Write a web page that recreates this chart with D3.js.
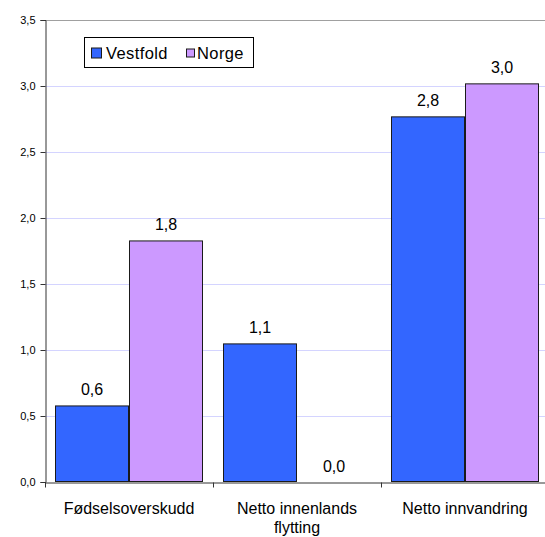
<!DOCTYPE html>
<html>
<head>
<meta charset="utf-8">
<script src="https://cdn.jsdelivr.net/npm/d3@7"></script>
<style>
  html, body { margin: 0; padding: 0; background: #fff; }
  svg { display: block; font-family: "Liberation Sans", Arial, sans-serif; }
</style>
</head>
<body>
<svg id="chart" width="545" height="537"></svg>
<script>
const categories = ["Fødselsoverskudd", "Netto innenlands\nflytting", "Netto innvandring"];
const series = ["Vestfold", "Norge"];
const vestfold = [0.58, 1.05, 2.77];
const norge = [1.83, 0.0, 3.02];
const vestfoldLabels = ["0,6", "1,1", "2,8"];
const norgeLabels = ["1,8", "0,0", "3,0"];
const yTicks = [0, 0.5, 1.0, 1.5, 2.0, 2.5, 3.0, 3.5];
const colors = ["#3366FF", "#CC99FF"];

(function () {
const values = [vestfold, norge];
const labels = [vestfoldLabels, norgeLabels];

const svg = d3.select("#chart");
const mLeft = 45, mTop = 20, mBottom = 482, catW = 168;

const x = d3.scaleBand().domain(categories).range([mLeft, mLeft + catW * categories.length]).padding(0);
const xs = d3.scaleBand().domain(series).range([10, catW - 10]).padding(0);
const y = d3.scaleLinear().domain([0, 3.5]).range([mBottom, mTop]);

const fmt = v => d3.format(".1f")(v).replace(".", ",");

// gridlines
svg.append("g").selectAll("line").data(yTicks.filter(t => t > 0)).join("line")
  .attr("x1", mLeft).attr("x2", 545)
  .attr("y1", d => Math.round(y(d)) + 0.5).attr("y2", d => Math.round(y(d)) + 0.5)
  .attr("stroke", d => d === 3.5 ? "#a0a0a0" : "#d4d4ff").attr("stroke-width", 1);

// bars
series.forEach((s, si) => {
  const g = svg.append("g");
  g.selectAll("rect").data(categories).join("rect")
    .attr("x", (c) => x(c) + xs(s) + 0.5)
    .attr("y", (c, i) => y(values[si][i]) + 0.5)
    .attr("width", xs.bandwidth() - 1)
    .attr("height", (c, i) => Math.max(0, mBottom - y(values[si][i]) - 1))
    .attr("fill", colors[si])
    .attr("stroke", "#1a1a1a").attr("stroke-width", 1)
    .style("display", (c, i) => values[si][i] === 0 ? "none" : null);
  g.selectAll("text").data(categories).join("text")
    .attr("x", c => x(c) + xs(s) + xs.bandwidth() / 2)
    .attr("y", (c, i) => y(values[si][i]) - 10)
    .attr("text-anchor", "middle")
    .attr("font-size", 16).attr("fill", "#000")
    .text((c, i) => labels[si][i]);
});

// y axis
const yAxis = d3.axisLeft(y).tickValues(yTicks).tickSize(5).tickPadding(5).tickFormat(fmt);
const gy = svg.append("g").attr("transform", `translate(${mLeft + 0.5},0)`).call(yAxis);
gy.select(".domain").attr("stroke", "#333");
gy.selectAll(".tick line").attr("stroke", "#333");
gy.selectAll(".tick text").attr("font-size", 11).attr("fill", "#000")
  .attr("font-family", '"Liberation Sans", Arial, sans-serif');

// x axis
const xAxis = d3.axisBottom(x).tickSize(0).tickFormat("");
const gx = svg.append("g").attr("transform", `translate(0,${mBottom + 0.5})`).call(xAxis);
gx.select(".domain").attr("stroke", "#333");
gx.selectAll(".tick").remove();
gx.selectAll("line.sep").data(d3.range(categories.length + 1)).join("line")
  .attr("class", "sep")
  .attr("x1", i => Math.round(mLeft + catW * i) + 0.5).attr("x2", i => Math.round(mLeft + catW * i) + 0.5)
  .attr("y1", 0).attr("y2", 5).attr("stroke", "#333");

// category labels
const cl = svg.append("g").selectAll("text").data(categories).join("text")
  .attr("x", c => x(c) + x.bandwidth() / 2)
  .attr("y", 514)
  .attr("text-anchor", "middle").attr("font-size", 16).attr("fill", "#000");
cl.each(function(c) {
  const lines = c.split("\n");
  const t = d3.select(this);
  lines.forEach((ln, i) => {
    t.append("tspan").attr("x", x(c) + x.bandwidth() / 2).attr("dy", i === 0 ? 0 : 19).text(ln);
  });
});

// legend
const lg = svg.append("g");
lg.append("rect").attr("x", 84.5).attr("y", 37.5).attr("width", 169).attr("height", 30)
  .attr("fill", "#fff").attr("stroke", "#000");
const legendItems = [
  { s: series[0], c: colors[0], sx: 91, sz: 11, tx: 106 },
  { s: series[1], c: colors[1], sx: 186, sz: 9, tx: 197 }
];
legendItems.forEach(it => {
  lg.append("rect").attr("x", it.sx + 0.5).attr("y", 53 - it.sz / 2 + 0.5)
    .attr("width", it.sz - 1).attr("height", it.sz - 1)
    .attr("fill", it.c).attr("stroke", "#1a1a1a");
  lg.append("text").attr("x", it.tx).attr("y", 59).attr("font-size", 16.5)
    .attr("letter-spacing", 0.4).attr("fill", "#000").text(it.s);
});
})();
</script>
</body>
</html>
